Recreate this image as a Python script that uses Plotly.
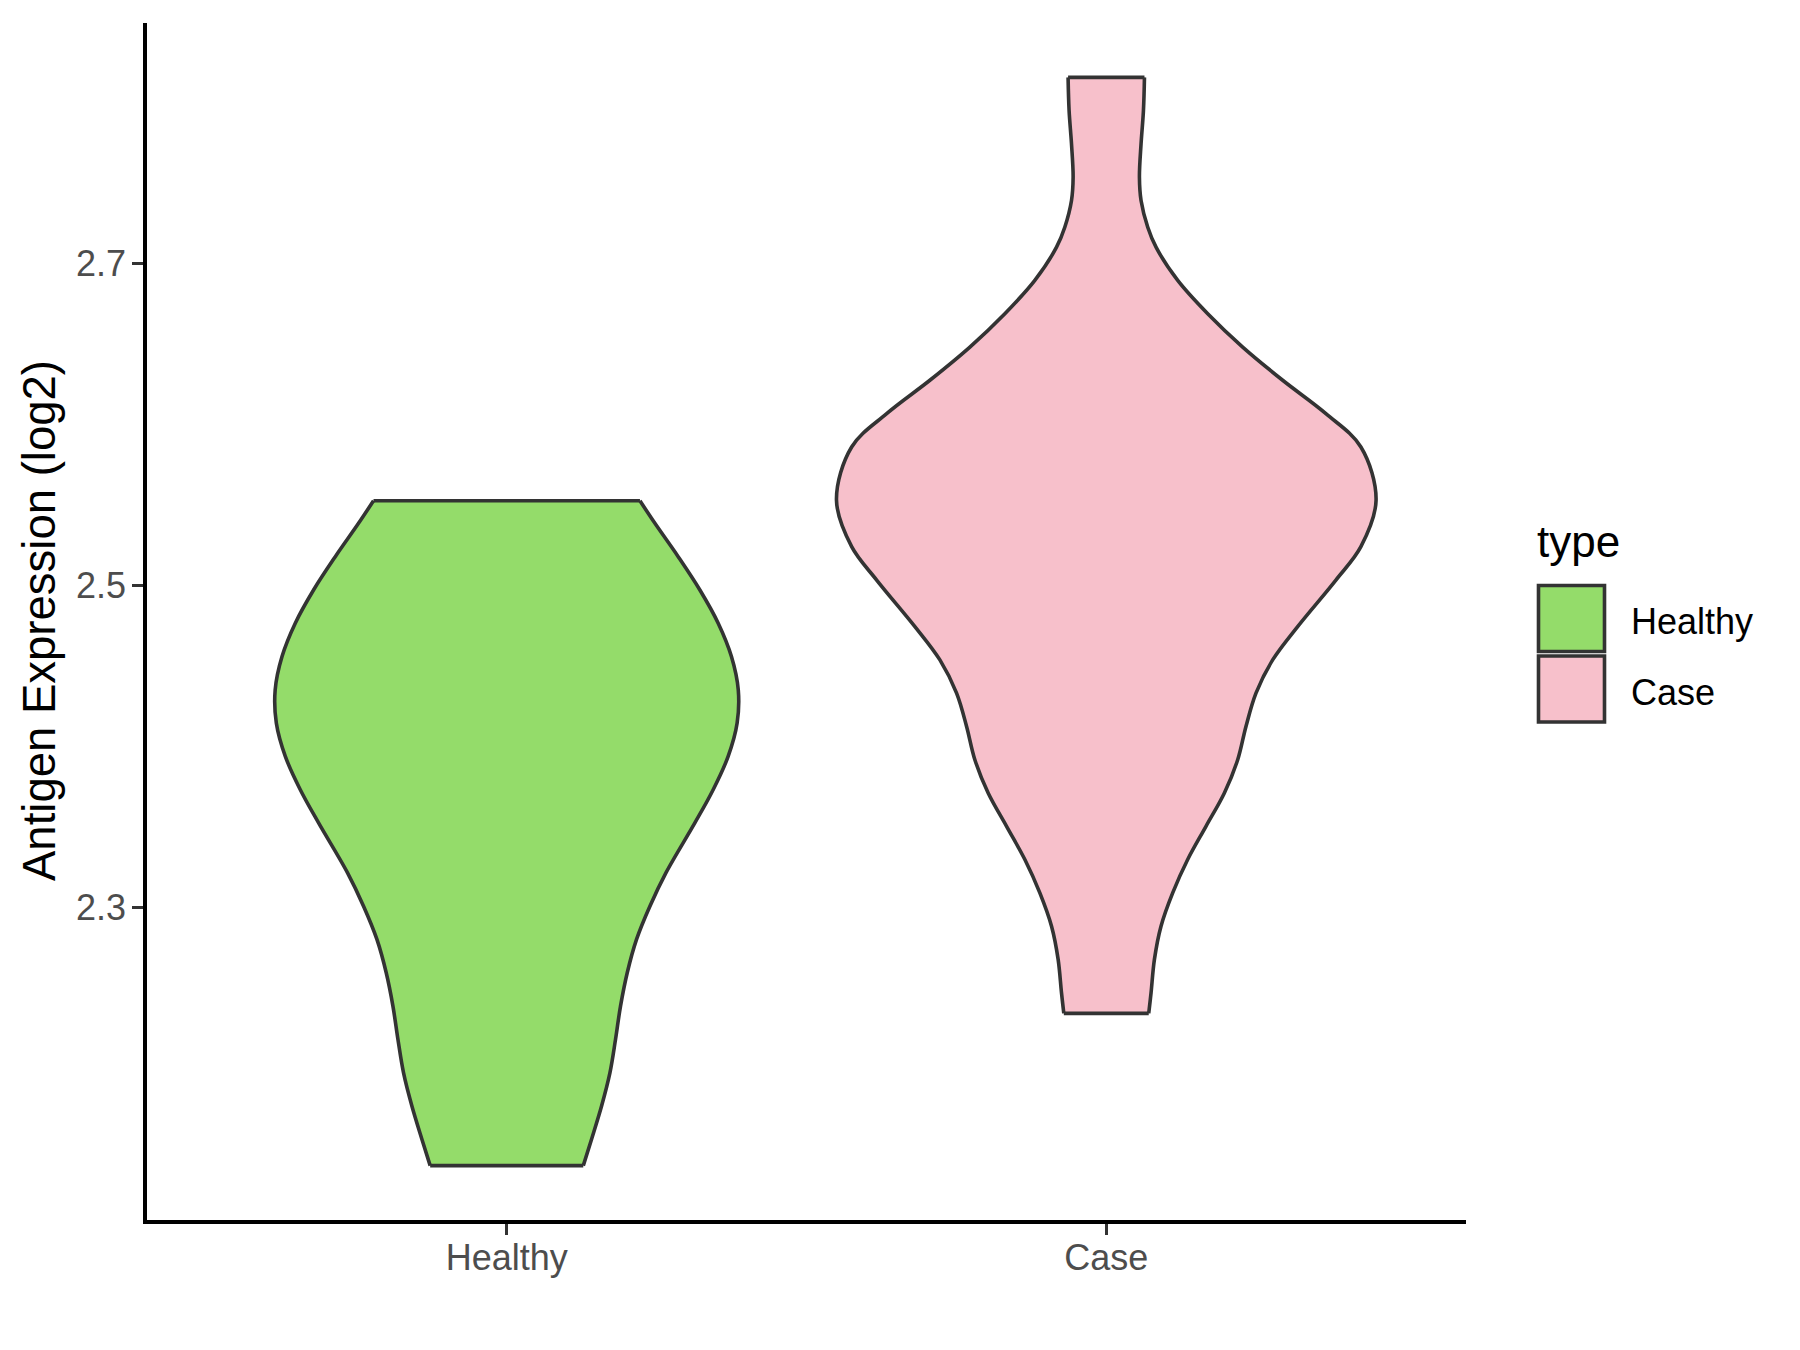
import plotly.graph_objects as go

# ---------------- data ----------------
categories = ["Healthy", "Case"]
fill_colors = ["#94DC6A", "#F7C0CB"]
outline_color = "#333333"

# Violin profiles: expression level (log2) and half-width of the violin
# (in category-axis units; ggplot scales the widest violin to 0.45)
healthy_y = [2.1398, 2.1562, 2.1768, 2.1975, 2.2182, 2.2388, 2.2595, 2.2802,
             2.3008, 2.3215, 2.3525, 2.3731, 2.3938, 2.4145, 2.4351, 2.4558,
             2.4765, 2.4971, 2.5178, 2.5385, 2.5525]
healthy_halfwidth = [0.1277, 0.1415, 0.1582, 0.1722, 0.1815, 0.1898, 0.2010,
                     0.2165, 0.2388, 0.2655, 0.3138, 0.3443, 0.3693, 0.3843,
                     0.3862, 0.3748, 0.3527, 0.3222, 0.2860, 0.2472, 0.2222]

case_y = [2.2343, 2.2471, 2.2678, 2.2884, 2.3091, 2.3298, 2.3504, 2.3711,
          2.3917, 2.4124, 2.4331, 2.4537, 2.4744, 2.5033, 2.5240, 2.5529,
          2.5859, 2.6066, 2.6273, 2.6479, 2.6686, 2.6893, 2.7099, 2.7223,
          2.7389, 2.7533, 2.7740, 2.7947, 2.8153]
case_halfwidth = [0.0708, 0.0747, 0.0803, 0.0913, 0.1108, 0.1358, 0.1663,
                  0.1970, 0.2192, 0.2330, 0.2497, 0.2775, 0.3192, 0.3830,
                  0.4247, 0.4500, 0.4247, 0.3663, 0.2942, 0.2275, 0.1692,
                  0.1192, 0.0830, 0.0692, 0.0580, 0.0553, 0.0580, 0.0620,
                  0.0637]

y_tickvals = [2.3, 2.5, 2.7]
y_ticktext = ["2.3", "2.5", "2.7"]
y_title = "Antigen Expression (log2)"
legend_title = "type"

profiles_y = [healthy_y, case_y]
profiles_w = [healthy_halfwidth, case_halfwidth]

# ---------------- figure ----------------
FONT = "Liberation Sans, Arial, Helvetica, sans-serif"
W, H = 1800, 1350
PAGE_OFF = 8  # default body margin of the html page
ML, MR, MT, MB = 139, 342, 15, 138
PW, PH = W - ML - MR, H - MT - MB
LW = 3.6

fig = go.Figure()

for i, (cat, col) in enumerate(zip(categories, fill_colors)):
    pos = i + 1
    ys = profiles_y[i]
    ws = profiles_w[i]
    line = dict(color=outline_color, width=LW, shape="spline", smoothing=1.0)
    fig.add_trace(go.Scatter(
        x=[pos - w for w in ws], y=ys, mode="lines", line=line,
        showlegend=False, hoverinfo="skip", name=cat))
    fig.add_trace(go.Scatter(
        x=[pos + w for w in ws], y=ys, mode="lines", line=line,
        fill="tonextx", fillcolor=col,
        showlegend=False, hoverinfo="skip", name=cat))
    # flat caps at the ends of the violin (ggplot trims at data range)
    fig.add_trace(go.Scatter(
        x=[pos - ws[0], pos + ws[0], None, pos - ws[-1], pos + ws[-1]],
        y=[ys[0], ys[0], None, ys[-1], ys[-1]],
        mode="lines", line=dict(color=outline_color, width=LW),
        showlegend=False, hoverinfo="skip"))

# y range with ggplot's default 5% expansion
all_y = healthy_y + case_y
ymin, ymax = min(all_y), max(all_y)
pad = 0.05 * (ymax - ymin)

axis_common = dict(
    showline=True, linecolor="black", linewidth=3.6,
    ticks="outside", ticklen=11, tickwidth=3.2, tickcolor=outline_color,
    showgrid=False, zeroline=False,
    tickfont=dict(family=FONT, size=36, color="#4D4D4D"),
)

fig.update_layout(
    width=W, height=H,
    margin=dict(l=ML, r=MR, t=MT, b=MB),
    paper_bgcolor="white", plot_bgcolor="white",
    showlegend=False,
    font=dict(family=FONT),
    xaxis=dict(range=[0.4, len(categories) + 0.6],
               tickvals=list(range(1, len(categories) + 1)),
               ticktext=categories, ticklabelstandoff=-8, **axis_common),
    yaxis=dict(range=[ymin - pad, ymax + pad],
               tickvals=y_tickvals, ticktext=y_ticktext,
               ticklabelstandoff=-1, **axis_common),
)

def px_x(px):
    return (px - PAGE_OFF - ML) / PW

def px_y(py):
    return (H - MB - (py - PAGE_OFF)) / PH

# y-axis title
fig.add_annotation(
    text=y_title, xref="paper", yref="paper",
    x=px_x(39), y=px_y(621), xanchor="center", yanchor="middle",
    textangle=-90, showarrow=False,
    font=dict(family=FONT, size=45.5, color="black"))

# legend (drawn manually to match ggplot's key boxes)
fig.add_annotation(
    text=legend_title, xref="paper", yref="paper",
    x=px_x(1535), y=px_y(541), xanchor="left", yanchor="middle",
    showarrow=False, font=dict(family=FONT, size=44, color="black"))

key_left, key_size, key_top0 = 1538.5, 66, 585.5
for i, (cat, col) in enumerate(zip(categories, fill_colors)):
    top = key_top0 + i * (key_size + 4.5)
    fig.add_shape(
        type="rect", xref="paper", yref="paper",
        x0=px_x(key_left), x1=px_x(key_left + key_size),
        y0=px_y(top), y1=px_y(top + key_size),
        fillcolor=col, line=dict(color=outline_color, width=3.6))
    fig.add_annotation(
        text=cat, xref="paper", yref="paper",
        x=px_x(1629), y=px_y(top + key_size / 2 + 3),
        xanchor="left", yanchor="middle", showarrow=False,
        font=dict(family=FONT, size=36, color="black"))

fig.write_html("out.html")
